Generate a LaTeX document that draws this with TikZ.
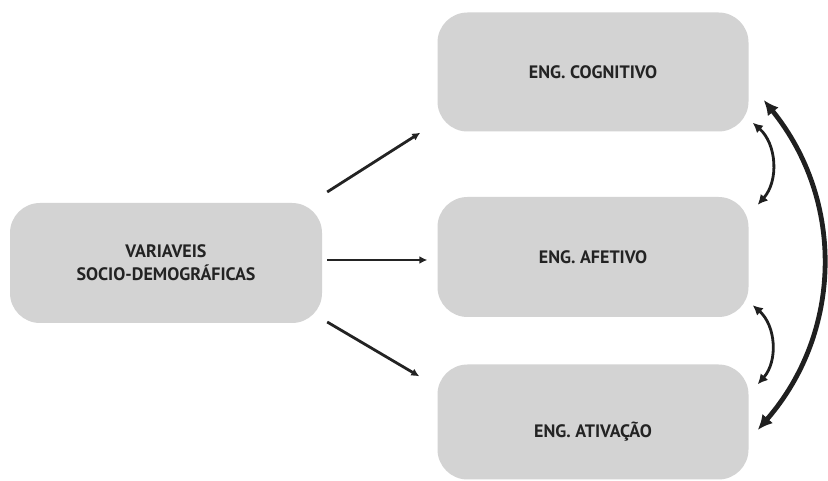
\documentclass[tikz,border=0pt]{standalone}
\usepackage{fontspec}
\setmainfont{PT Sans}
\usetikzlibrary{arrows.meta}
\definecolor{boxgray}{RGB}{211,211,211}
\definecolor{inkgray}{RGB}{35,35,35}

\begin{document}
\begin{tikzpicture}[x=1pt,y=1pt,
  every node/.style={font=\bfseries\fontsize{18}{23}\selectfont, text=inkgray},
  engbox/.style={rectangle,rounded corners=30pt,fill=boxgray,minimum width=311pt,minimum height=119pt,align=center},
  link/.style={line width=2.8pt,draw=inkgray,-{Latex[length=8pt,width=8pt]}},
  corr/.style={line width=2.8pt,draw=black!88,{Latex[length=10pt,width=10pt]}-{Latex[length=10pt,width=10pt]}}]
  \useasboundingbox (0,0) rectangle (828,481);
  \node[engbox,minimum width=312pt,minimum height=120pt] (vars) at (166,218) {VARIAVEIS\\SOCIO-DEMOGRÁFICAS};
  \node[engbox] (cog) at (593,409) {ENG. COGNITIVO};
  \node[engbox,minimum height=120pt] (aff) at (593,224) {ENG. AFETIVO};
  \node[engbox,minimum height=115pt] (act) at (593,59) {\raisebox{-10pt}[\height][\depth]{ENG. ATIVAÇÃO}};
  \draw[link] ([shift={(5,71)}]vars.east) -- ([shift={(-17,-1)}]cog.south west);
  \draw[link] ([shift={(5,3)}]vars.east) -- ([shift={(-10,-3)}]aff.west);
  \draw[link] ([shift={(5,-59)}]vars.east) -- ([shift={(-18,-12)}]act.north west);
  \draw[corr] ([shift={(4,9)}]cog.south east) to[bend left=45] ([shift={(9,-8)}]aff.north east);
  \draw[corr] ([shift={(4,12)}]aff.south east) to[bend left=45] ([shift={(9,-20)}]act.north east);
  \draw[corr,line width=4.8pt,{Latex[length=15pt,width=14pt]}-{Latex[length=15pt,width=14pt]}] ([shift={(15,-28)}]cog.east) to[bend left=40] ([shift={(9,-8)}]act.east);
\end{tikzpicture}
\end{document}
